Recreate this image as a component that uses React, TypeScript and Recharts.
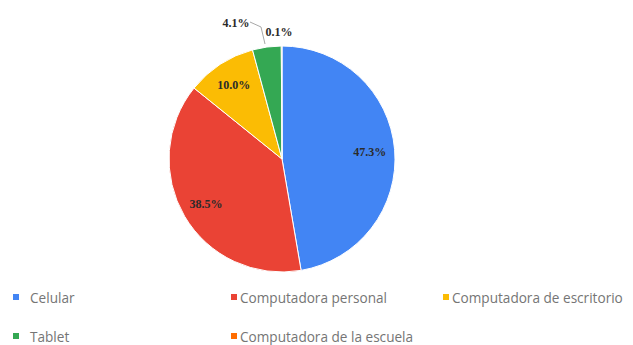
import { PieChart, Pie, Cell, Legend } from "recharts";

const categories = [
  "Celular",
  "Computadora personal",
  "Computadora de escritorio",
  "Tablet",
  "Computadora de la escuela",
];
const shares = [47.3, 38.5, 10.0, 4.1, 0.1];
const colors = ["#4285F4", "#EA4335", "#FBBC04", "#34A853", "#FF6D01"];

const data = categories.map((name, i) => ({ name, value: shares[i] }));

const RAD = Math.PI / 180;

const renderLabel = (props: any) => {
  const { cx, cy, midAngle, outerRadius, percent, index } = props;
  const text = `${(percent * 100).toFixed(1)}%`;
  const style = {
    fontFamily: "'Liberation Serif', serif",
    fontSize: 12,
    fontWeight: 700,
    fill: "#2b2b2b",
  };
  if (percent >= 0.05) {
    const r = outerRadius * 0.78;
    const x = cx + r * Math.cos(-midAngle * RAD);
    const y = cy + r * Math.sin(-midAngle * RAD);
    return (
      <text x={x} y={y} textAnchor="middle" dominantBaseline="central" {...style}>
        {text}
      </text>
    );
  }
  // small slices: labels above the pie with a leader line
  const top = cy - outerRadius;
  if (index === 3) {
    return (
      <g>
        <polyline
          points={`${cx - 32},${top - 24} ${cx - 21},${top - 19} ${cx - 17},${top - 2}`}
          fill="none"
          stroke="#a8a8a8"
          strokeWidth={1}
        />
        <text x={cx - 46} y={top - 23} textAnchor="middle" dominantBaseline="central" {...style}>
          {text}
        </text>
      </g>
    );
  }
  return (
    <text x={cx - 3} y={top - 14} textAnchor="middle" dominantBaseline="central" {...style}>
      {text}
    </text>
  );
};

const renderLegend = () => (
  <div
    style={{
      display: "grid",
      gridTemplateColumns: "219px 212px 180px",
      gridAutoRows: "39px",
      fontFamily: "'Open Sans', sans-serif",
      fontSize: 13.6,
      color: "#757575",
    }}
  >
    {categories.map((name, i) => (
      <div key={name} style={{ display: "flex", alignItems: "center", height: 16, whiteSpace: "nowrap" }}>
        <span
          style={{
            display: "inline-block",
            flexShrink: 0,
            width: 6,
            height: 6,
            background: colors[i],
            marginLeft: i % 3 === 0 ? 1 : 0,
            marginRight: i % 3 === 0 ? 11 : 3,
          }}
        />
        {name}
      </div>
    ))}
  </div>
);

export default function App() {
  return (
    <PieChart width={617} height={337}>
      <Pie
        data={data}
        dataKey="value"
        nameKey="name"
        cx={269}
        cy={146}
        outerRadius={113}
        startAngle={90}
        endAngle={-270}
        stroke="#ffffff"
        strokeWidth={1}
        label={renderLabel}
        labelLine={false}
        isAnimationActive={false}
      >
        {data.map((d, i) => (
          <Cell key={d.name} fill={colors[i]} />
        ))}
      </Pie>
      <Legend
        content={renderLegend}
        wrapperStyle={{ position: "absolute", left: 4, top: 281, width: 613 }}
      />
    </PieChart>
  );
}
